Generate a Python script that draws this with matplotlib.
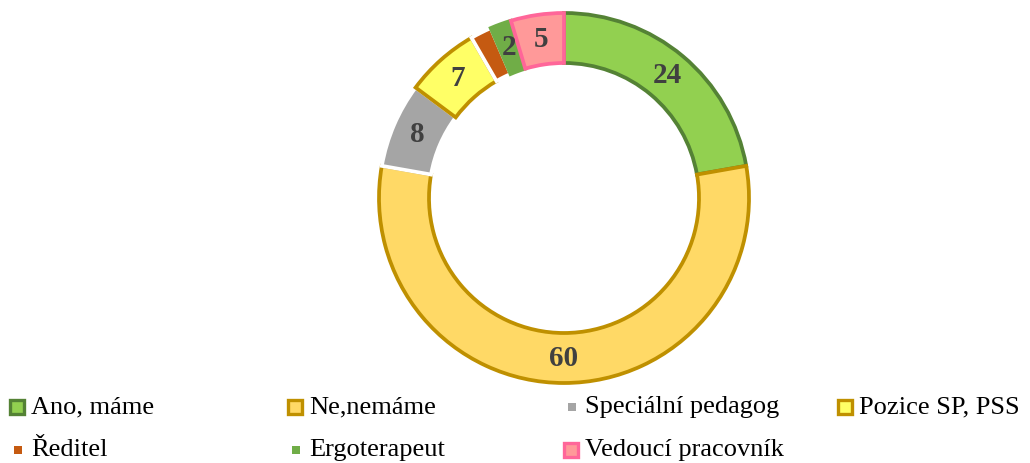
import matplotlib.pyplot as plt
from matplotlib.patches import Rectangle
import numpy as np

# Respondent answers, clockwise from the top
categories = ["Ano, máme", "Ne,nemáme", "Speciální pedagog", "Pozice SP, PSS",
              "Ředitel", "Ergoterapeut", "Vedoucí pracovník"]
counts = [24, 60, 8, 7, 2, 2, 5]
show_label = [True, True, True, True, False, True, True]

fills = ["#92D050", "#FFD966", "#A5A5A5", "#FFFF66", "#C55A11", "#70AD47", "#FF9999"]
edges = ["#548235", "#BF9000", "white", "#BF9000", "white", "#70AD47", "#FF6699"]
boxed = [True, True, False, True, False, False, True]

W, H = 1030, 463
fig = plt.figure(figsize=(W / 100, H / 100), dpi=100)

# donut: centre (564, 198) px, outer radius 186 px, ring 50 px wide
cx, cy, r = 564, 198, 185
ax = fig.add_axes([(cx - r) / W, (H - cy - r) / H, 2 * r / W, 2 * r / H])
ring = 50 / r
wedges, _ = ax.pie(counts, startangle=90, counterclock=False, radius=1,
                   colors=fills, wedgeprops=dict(width=ring, linewidth=2.7))
for w, ec in zip(wedges, edges):
    w.set_edgecolor(ec)
    w.set_clip_on(False)
ax.set_xlim(-1, 1)
ax.set_ylim(-1, 1)
ax.set_aspect("equal")
ax.axis("off")

mid_r = 1 - ring / 2
for w, v, show in zip(wedges, counts, show_label):
    if not show:
        continue
    ang = np.deg2rad((w.theta1 + w.theta2) / 2)
    ax.text(mid_r * np.cos(ang), mid_r * np.sin(ang), str(v),
            ha="center", va="center", fontsize=21, fontweight="bold",
            family="Liberation Serif", color="#404040")

# legend, four columns in rows
col_text_x = [31, 309, 585, 859]
row_y = [407, 450]
for i, name in enumerate(categories):
    col, row = i % 4, i // 4
    tx = col_text_x[col]
    yc = row_y[row]
    if boxed[i]:
        s = 14
        rect = Rectangle(((tx - 21) / W, (H - yc - s / 2) / H), s / W, s / H,
                         facecolor=fills[i], edgecolor=edges[i], linewidth=2.4,
                         transform=fig.transFigure)
    else:
        s = 8
        rect = Rectangle(((tx - 17) / W, (H - yc - s / 2) / H), s / W, s / H,
                         facecolor=fills[i], edgecolor="none",
                         transform=fig.transFigure)
    fig.add_artist(rect)
    fig.text(tx / W, (H - yc) / H, name, ha="left", va="center",
             fontsize=19, family="Liberation Serif", color="black")

fig.savefig("out.png", dpi=100, facecolor="white")
